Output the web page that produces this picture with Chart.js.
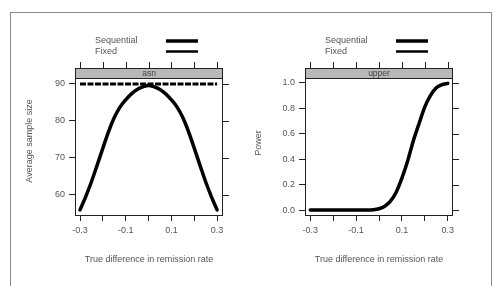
<!DOCTYPE html>
<html>
<head>
<meta charset="utf-8">
<script src="https://cdn.jsdelivr.net/npm/chart.js@4.4.1/dist/chart.umd.min.js"></script>
<style>
  html, body { margin: 0; padding: 0; background: #fff; }
  body { width: 494px; height: 286px; position: relative; overflow: hidden; }
  #frame { position: absolute; left: 10px; top: 12px; width: 482px; height: 300px; border: 1px solid #8a8a8a; box-sizing: border-box; }
  .pane { position: absolute; top: 0; width: 247px; height: 286px; }
</style>
</head>
<body>
<div id="frame"></div>
<div class="pane" style="left:0"><canvas id="c1" width="247" height="286"></canvas></div>
<div class="pane" style="left:247px"><canvas id="c2" width="247" height="286"></canvas></div>
<script>
// ---- data ----
const diffs = [-0.3,-0.275,-0.25,-0.225,-0.2,-0.175,-0.15,-0.125,-0.1,-0.075,-0.05,-0.025,0,0.025,0.05,0.075,0.1,0.125,0.15,0.175,0.2,0.225,0.25,0.275,0.3];
const asnSequential = [55.9,59.5,63.5,68.0,72.6,77.1,80.9,83.7,85.7,87.3,88.5,89.2,89.6,89.2,88.5,87.3,85.7,83.7,80.9,77.1,72.6,68.0,63.5,59.5,55.9];
const asnFixed = [90,90,90,90,90,90,90,90,90,90,90,90,90,90,90,90,90,90,90,90,90,90,90,90,90];
const powerSequential = [0,0,0,0,0,0,0,0,0,0,0,0.002,0.01,0.03,0.07,0.14,0.25,0.385,0.545,0.68,0.81,0.9,0.96,0.985,0.995];
const xTicks = [-0.3,-0.2,-0.1,0,0.1,0.2,0.3];
const xTickLabels = ['-0.3','','-0.1','','0.1','','0.3'];
const asnTicks = [60,70,80,90];
const powerTicks = [0,0.2,0.4,0.6,0.8,1.0];
const legendLabels = ['Sequential','Fixed'];
const stripNames = ['asn','upper'];
const xTitle = 'True difference in remission rate';
const yTitles = ['Average sample size','Power'];

const FONT = '"Liberation Sans", Arial, sans-serif';
const TXT = '#555';

function pts(xs, ys) { return xs.map((x, i) => ({x: x, y: ys[i]})); }

function latticePlugin(opts) {
  return {
    id: 'lattice',
    afterDraw(chart) {
      const ctx = chart.ctx;
      const a = chart.chartArea;
      const xs = chart.scales.x, ys = chart.scales.y;
      ctx.save();
      // plot box
      ctx.strokeStyle = '#222';
      ctx.lineWidth = 1;
      ctx.strokeRect(a.left + 0.5, a.top + 0.5, a.right - a.left - 1, a.bottom - a.top);
      // strip
      const sTop = a.top - 10;
      ctx.fillStyle = '#b8b8b8';
      ctx.fillRect(a.left, sTop, a.right - a.left, 10);
      ctx.strokeRect(a.left + 0.5, sTop + 0.5, a.right - a.left - 1, 10);
      ctx.fillStyle = '#444';
      ctx.font = '8.5px ' + FONT;
      ctx.textAlign = 'center';
      ctx.textBaseline = 'middle';
      ctx.fillText(opts.strip, (a.left + a.right) / 2, sTop + 5.5);
      // top ticks
      ctx.beginPath();
      xTicks.forEach(v => {
        const px = Math.round(xs.getPixelForValue(v)) + 0.5;
        ctx.moveTo(px, sTop); ctx.lineTo(px, sTop - 6);
      });
      // right ticks
      opts.yTicks.forEach(v => {
        const py = Math.round(ys.getPixelForValue(v)) + 0.5;
        ctx.moveTo(a.right, py); ctx.lineTo(a.right + 6, py);
      });
      ctx.stroke();
      // legend
      ctx.font = '9px ' + FONT;
      ctx.fillStyle = TXT;
      ctx.textAlign = 'left';
      ctx.fillText(legendLabels[0], opts.legX, 41);
      ctx.fillText(legendLabels[1], opts.legX, 52);
      ctx.strokeStyle = '#000';
      ctx.lineWidth = 3.5;
      ctx.beginPath(); ctx.moveTo(opts.lineX, 41); ctx.lineTo(opts.lineX + 32, 41); ctx.stroke();
      ctx.lineWidth = 2.5;
      ctx.beginPath(); ctx.moveTo(opts.lineX, 51.5); ctx.lineTo(opts.lineX + 32, 51.5); ctx.stroke();
      // titles
      ctx.fillStyle = TXT;
      ctx.textAlign = 'center';
      ctx.fillText(xTitle, (a.left + a.right) / 2, 260);
      ctx.translate(opts.yTitleX, opts.yTitleY);
      ctx.rotate(-Math.PI / 2);
      ctx.fillText(opts.yTitle, 0, 0);
      ctx.restore();
    }
  };
}

function makeChart(id, datasets, cfg) {
  return new Chart(document.getElementById(id), {
    type: 'line',
    data: { datasets: datasets },
    options: {
      responsive: false,
      animation: false,
      events: [],
      layout: { padding: { left: 0, right: cfg.padRight, top: 78, bottom: 0 } },
      plugins: { legend: { display: false }, tooltip: { enabled: false } },
      elements: { point: { radius: 0 } },
      scales: {
        x: {
          type: 'linear', min: cfg.xMin, max: cfg.xMax,
          afterBuildTicks: s => { s.ticks = xTicks.map(v => ({value: v})); },
          afterFit: s => { s.height = 71; },
          grid: { display: true, drawOnChartArea: false, tickLength: 6, color: '#222', tickColor: '#222' },
          border: { display: false },
          ticks: {
            autoSkip: false, maxRotation: 0, padding: 4, color: TXT,
            font: { family: FONT, size: 9 },
            callback: (v, i) => xTickLabels[i]
          }
        },
        y: {
          type: 'linear', min: cfg.yMin, max: cfg.yMax,
          afterBuildTicks: s => { s.ticks = cfg.yTicks.map(v => ({value: v})); },
          afterFit: s => { s.width = cfg.yWidth; },
          grid: { display: true, drawOnChartArea: false, tickLength: 6, color: '#222', tickColor: '#222' },
          border: { display: false },
          ticks: {
            padding: 4, color: TXT, font: { family: FONT, size: 9 },
            callback: v => cfg.fmt(v)
          }
        }
      }
    },
    plugins: [latticePlugin(cfg)]
  });
}

makeChart('c1', [
  { data: pts(diffs, asnFixed), borderColor: '#000', borderWidth: 3, borderDash: [6, 1.5], fill: false },
  { data: pts(diffs, asnSequential), borderColor: '#000', borderWidth: 3.5, tension: 0.4, borderCapStyle: 'round', fill: false }
], {
  padRight: 24, yWidth: 75, xMin: -0.322, xMax: 0.326, yMin: 54.5, yMax: 91.6,
  yTicks: asnTicks, fmt: v => String(v),
  strip: stripNames[0], legX: 95, lineX: 166, yTitle: yTitles[0], yTitleX: 30, yTitleY: 141
});

makeChart('c2', [
  { data: pts(diffs, powerSequential), borderColor: '#000', borderWidth: 3.5, cubicInterpolationMode: 'monotone', borderCapStyle: 'round', fill: false }
], {
  padRight: 41, yWidth: 58, xMin: -0.323, xMax: 0.323, yMin: -0.039, yMax: 1.037,
  yTicks: powerTicks, fmt: v => v.toFixed(1),
  strip: stripNames[1], legX: 78, lineX: 149, yTitle: yTitles[1], yTitleX: 12, yTitleY: 143
});
</script>
</body>
</html>
